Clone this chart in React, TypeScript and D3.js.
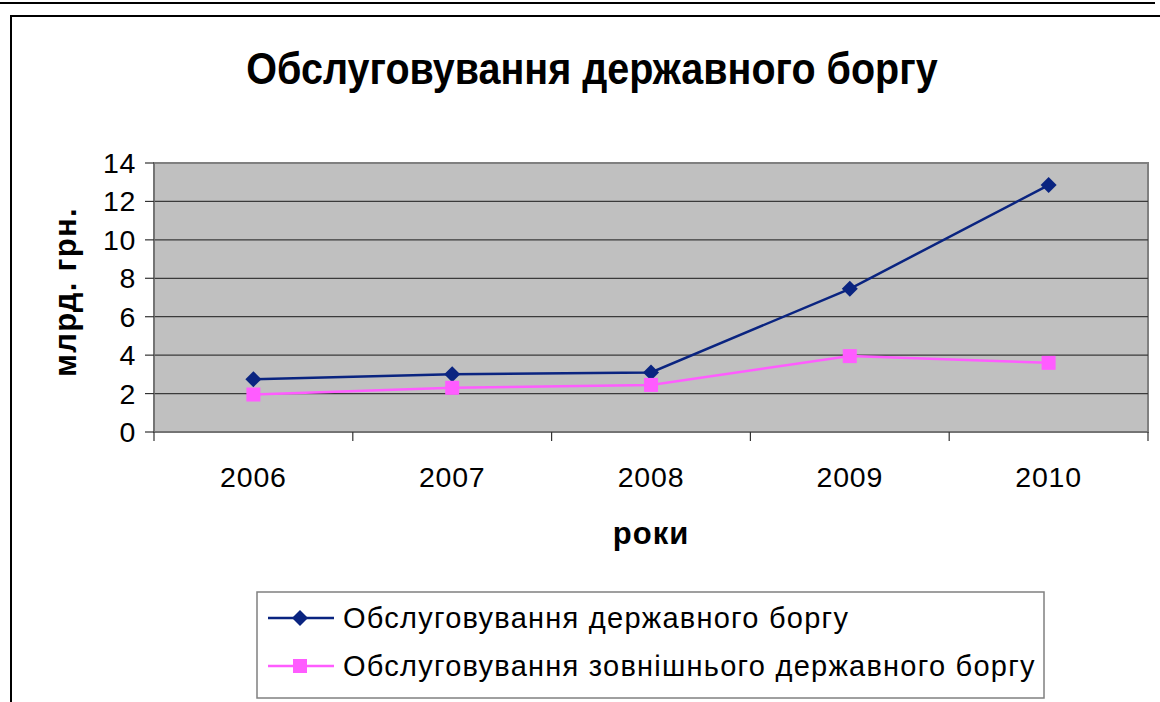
import { useMemo } from "react";
import * as d3 from "d3";

const WIDTH = 1160;
const HEIGHT = 702;
const PLOT = { left: 154, right: 1148, top: 163, bottom: 432 };
const FONT = "'Liberation Sans', Arial, sans-serif";

const YEARS = ["2006", "2007", "2008", "2009", "2010"];
const TOTAL_DEBT = [2.75, 3.0, 3.1, 7.45, 12.85];
const EXTERNAL_DEBT = [1.95, 2.3, 2.45, 3.95, 3.6];
const Y_TICKS = [0, 2, 4, 6, 8, 10, 12, 14];

const SERIES = [
  { name: "Обслуговування державного боргу", values: TOTAL_DEBT, color: "#0a2480", marker: "diamond" },
  { name: "Обслуговування зовнішнього державного боргу", values: EXTERNAL_DEBT, color: "#ff5cff", marker: "square" },
];

function Marker({ type, x, y, color }: { type: string; x: number; y: number; color: string }) {
  if (type === "diamond") {
    const r = 8;
    return <path d={`M${x},${y - r}L${x + r},${y}L${x},${y + r}L${x - r},${y}Z`} fill={color} />;
  }
  const s = 14;
  return <rect x={x - s / 2} y={y - s / 2} width={s} height={s} fill={color} />;
}

export default function App() {
  const x = useMemo(
    () => d3.scaleBand().domain(YEARS).range([PLOT.left, PLOT.right]).padding(0),
    []
  );
  const y = useMemo(
    () => d3.scaleLinear().domain([0, 14]).range([PLOT.bottom, PLOT.top]),
    []
  );
  const cx = (year: string) => (x(year) ?? 0) + x.bandwidth() / 2;

  const line = (values: number[]) =>
    d3
      .line<number>()
      .x((_, i) => cx(YEARS[i]))
      .y((d) => y(d))(values) ?? "";

  const bandEdges = [...YEARS.map((yr) => x(yr) ?? 0), PLOT.right];

  return (
    <div style={{ position: "fixed", left: 0, top: 0 }}>
      <svg width={WIDTH} height={HEIGHT} style={{ display: "block", background: "#fff" }} fontFamily={FONT}>
        {/* page frame */}
        <line x1={0} x2={1155} y1={3} y2={3} stroke="#000" strokeWidth={2} />
        <path d={`M11,${HEIGHT + 5}V16H${WIDTH + 5}`} fill="none" stroke="#000" strokeWidth={2} />

        <text
          transform="translate(592,84) scale(0.878,1)"
          textAnchor="middle"
          fontSize={45}
          fontWeight="bold"
        >
          Обслуговування державного боргу
        </text>

        {/* plot area */}
        <rect
          x={PLOT.left}
          y={PLOT.top}
          width={PLOT.right - PLOT.left}
          height={PLOT.bottom - PLOT.top}
          fill="#c0c0c0"
          stroke="#808080"
          strokeWidth={2}
        />
        {Y_TICKS.filter((t) => t > 0 && t < 14).map((t) => (
          <line key={t} x1={PLOT.left} x2={PLOT.right} y1={y(t)} y2={y(t)} stroke="#3a3a3a" strokeWidth={1.2} />
        ))}
        <line x1={PLOT.left} x2={PLOT.left} y1={PLOT.top} y2={PLOT.bottom} stroke="#707070" strokeWidth={1.5} />
        <line x1={PLOT.left} x2={PLOT.right} y1={PLOT.bottom} y2={PLOT.bottom} stroke="#707070" strokeWidth={1.5} />

        {/* y axis */}
        {Y_TICKS.map((t) => (
          <g key={t}>
            <line x1={PLOT.left - 9} x2={PLOT.left} y1={y(t)} y2={y(t)} stroke="#333" strokeWidth={1.2} />
            <text x={136} y={y(t) + 10} textAnchor="end" fontSize={28.5} letterSpacing={0.6}>
              {t}
            </text>
          </g>
        ))}
        <text
          transform={`translate(76,292) rotate(-90)`}
          textAnchor="middle"
          fontSize={31}
          fontWeight="bold"
          letterSpacing={1.3}
        >
          млрд. грн.
        </text>

        {/* x axis */}
        {bandEdges.map((e, i) => (
          <line key={i} x1={e} x2={e} y1={PLOT.bottom} y2={PLOT.bottom + 9} stroke="#333" strokeWidth={1.2} />
        ))}
        {YEARS.map((yr) => (
          <text key={yr} x={cx(yr)} y={487} textAnchor="middle" fontSize={28.5} letterSpacing={0.8}>
            {yr}
          </text>
        ))}
        <text x={cx("2008")} y={544} textAnchor="middle" fontSize={31} fontWeight="bold" letterSpacing={1}>
          роки
        </text>

        {/* series */}
        {SERIES.map((s) => (
          <g key={s.name}>
            <path d={line(s.values)} fill="none" stroke={s.color} strokeWidth={2.5} />
            {s.values.map((v, i) => (
              <Marker key={i} type={s.marker} x={cx(YEARS[i])} y={y(v)} color={s.color} />
            ))}
          </g>
        ))}

        {/* legend */}
        <rect x={257} y={592} width={787} height={106} fill="#fff" stroke="#808080" strokeWidth={1.5} />
        {SERIES.map((s, i) => {
          const ly = 618 + i * 48;
          return (
            <g key={s.name}>
              <line x1={268} x2={334} y1={ly} y2={ly} stroke={s.color} strokeWidth={2.5} />
              <Marker type={s.marker} x={300} y={ly} color={s.color} />
              <text x={343} y={ly + 10} fontSize={29} letterSpacing={1.25}>
                {s.name}
              </text>
            </g>
          );
        })}
      </svg>
    </div>
  );
}
